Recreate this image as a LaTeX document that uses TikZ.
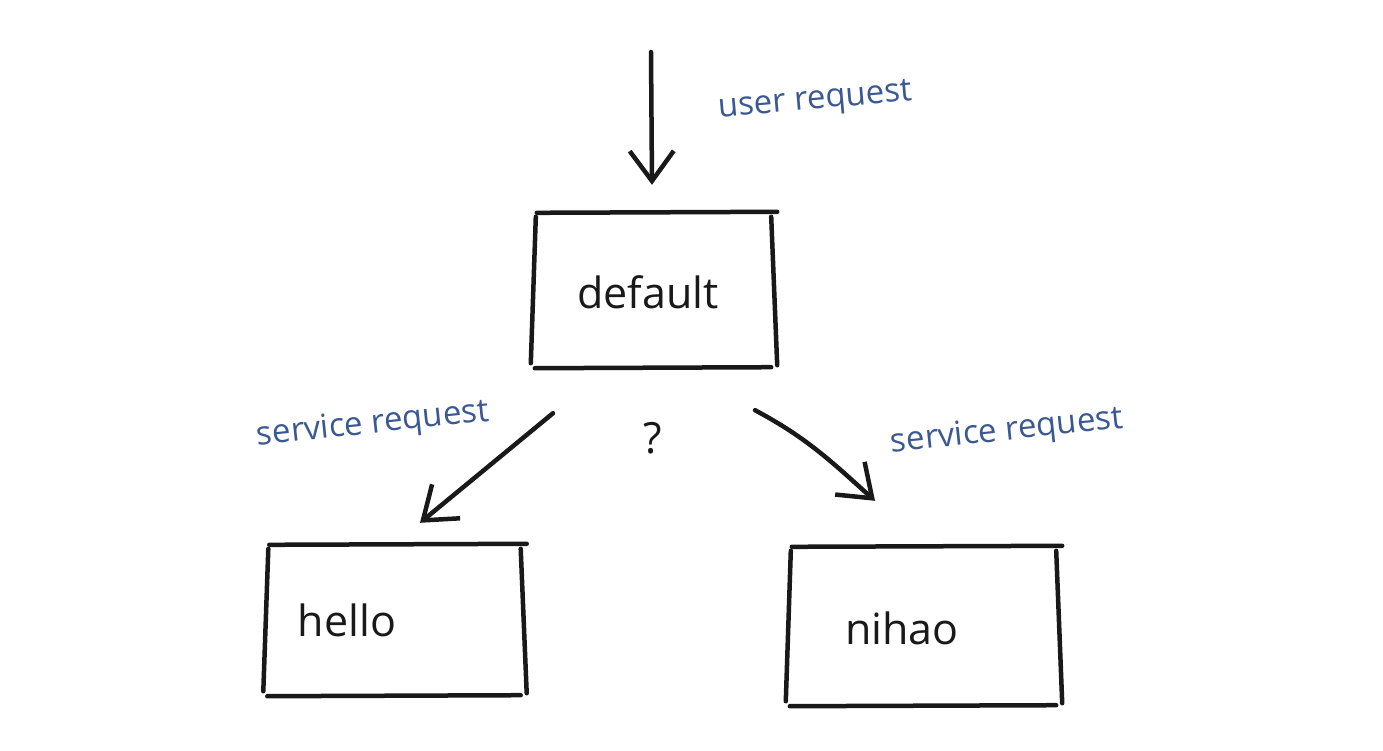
\documentclass[tikz,border=0pt]{standalone}
\usepackage{fontspec}
\setmainfont{Open Sans}
\usetikzlibrary{arrows.meta}
\definecolor{inkblue}{RGB}{58,88,145}
\definecolor{inkblack}{RGB}{25,25,25}
\tikzset{
  box/.style={inner sep=0pt},
  side/.style={draw=inkblack, line width=4.5pt, line cap=round},
  arr/.style={side, -{Straight Barb[length=30pt, width=44pt, line width=4.5pt]}},
  word/.style={text=inkblack, font=\fontsize{43}{48}\selectfont},
  note/.style={text=inkblue, font=\fontsize{33}{38}\selectfont}
}
\begin{document}
\begin{tikzpicture}[x=1pt,y=-1pt]
\useasboundingbox (0,0) rectangle (1383,750);

% boxes
\node[box, minimum width=246pt, minimum height=154pt] (default) at (654,290) {};
\node[box, minimum width=263pt, minimum height=150pt] (hello) at (395,620) {};
\node[box, minimum width=276pt, minimum height=158pt] (nihao) at (924,626) {};

\foreach \b in {default,hello,nihao}{
  \draw[side] ([shift={(6,0)}]\b.north west) -- ([shift={(0,-1)}]\b.north east);
  \draw[side] ([shift={(5,4)}]\b.north west) -- ([shift={(0,-4)}]\b.south west);
  \draw[side] ([shift={(-6,4)}]\b.north east) -- ([shift={(0,-2)}]\b.south east);
  \draw[side] ([shift={(4,1)}]\b.south west) -- ([shift={(-6,0)}]\b.south east);
}

% texts
\node[word] (defaulttxt) at ([shift={(-6,2)}]default.center) {default};
\node[word] (hellotxt) at ([shift={(-48,0)}]hello.center) {hello};
\node[word] (nihaotxt) at ([shift={(-22,2)}]nihao.center) {nihao};
\node[word] (ask) at (653,438) {?};

% arrows
\coordinate (userin) at (651,52);
\draw[arr] (userin) -- ([shift={(-2,-28)}]default.north);
\draw[arr] ([shift={(-101,46)}]default.south) -- ([shift={(25,-22)}]hello.north);
\draw[arr] ([shift={(101,43)}]default.south) to[out=-28, in=138] ([shift={(-49,-46)}]nihao.north);

% labels
\node[note, rotate=5] (userlbl) at (815,102) {user request};
\node[note, rotate=6] (leftlbl) at (373,425) {service request};
\node[note, rotate=6] (rightlbl) at (1007,432) {service request};

\end{tikzpicture}
\end{document}
